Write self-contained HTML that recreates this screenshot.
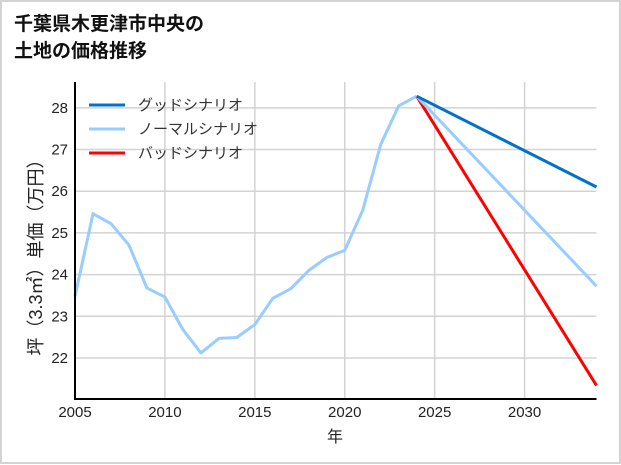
<!DOCTYPE html>
<html><head><meta charset="utf-8"><style>
html,body{margin:0;padding:0;background:#fff}
svg{display:block}
text{font-family:"Liberation Sans","Noto Sans CJK JP",sans-serif}
</style></head><body>
<svg id="chart" width="621" height="465" viewBox="0 0 621 465">
<rect x="1" y="1" width="619" height="462" fill="#fff" stroke="#d3d3d3" stroke-width="2"/>
<text x="14" y="30" font-size="19" font-weight="bold" fill="#111">千葉県木更津市中央の</text>
<text x="14" y="57" font-size="19" font-weight="bold" fill="#111">土地の価格推移</text>
<g id="grid"></g>
<g id="series"></g>
<g id="axes"></g>
<text x="0" y="0" font-size="18" fill="#222" text-anchor="middle" transform="translate(42,253) rotate(-90)">坪（3.3㎡）単価（万円）</text>
<text x="335" y="442" font-size="16" fill="#222" text-anchor="middle">年</text>
<g id="legend"></g>
</svg>
<script>
const years = [2005,2006,2007,2008,2009,2010,2011,2012,2013,2014,2015,2016,2017,2018,2019,2020,2021,2022,2023,2024];
const history = [23.48,25.46,25.22,24.71,23.68,23.46,22.68,22.12,22.47,22.49,22.80,23.43,23.66,24.10,24.41,24.58,25.54,27.12,28.05,28.28];
const forecastYears = [2024,2034];
const goodValues = [28.28,26.10];
const normalValues = [28.28,23.72];
const badValues = [28.28,21.34];
const xTicks = [2005,2010,2015,2020,2025,2030];
const yTicks = [22,23,24,25,26,27,28];
const seriesNames = ['グッドシナリオ','ノーマルシナリオ','バッドシナリオ'];

const X0=75,X1=596.5,Y0=399,Y1=82;
const xmin=2005,xmax=2034,ymin=21.015,ymax=28.62;
const xs=v=>X0+(v-xmin)/(xmax-xmin)*(X1-X0);
const ys=v=>Y0-(v-ymin)/(ymax-ymin)*(Y0-Y1);
const NS='http://www.w3.org/2000/svg';
function mk(tag,attrs,parent){const e=document.createElementNS(NS,tag);for(const k in attrs)e.setAttribute(k,attrs[k]);parent.appendChild(e);return e;}
const grid=document.getElementById('grid'),axes=document.getElementById('axes'),series=document.getElementById('series'),legend=document.getElementById('legend');
xTicks.forEach(t=>{
  const l=mk('line',{x1:xs(t),x2:xs(t),y1:Y1,y2:Y0,stroke:'#d3d3d3','stroke-width':1.5},grid);
  
  
  const tx=mk('text',{x:xs(t),y:Y0+18,'font-size':15,fill:'#222','text-anchor':'middle'},axes);
  tx.textContent=t;
  
  
});
yTicks.forEach(t=>{
  const l=mk('line',{x1:X0,x2:X1,y1:ys(t),y2:ys(t),stroke:'#d3d3d3','stroke-width':1.5},grid);
  
  
  const tx=mk('text',{x:X0-7,y:ys(t)+5,'font-size':15,fill:'#222','text-anchor':'end'},axes);
  tx.textContent=t;
  
  
});
const ax=mk('line',{x1:X0,x2:X0,y1:Y1,y2:Y0+1,stroke:'#000','stroke-width':2},axes);


const bx=mk('line',{x1:X0-1,x2:X1,y1:Y0,y2:Y0,stroke:'#000','stroke-width':2},axes);


function pts(xa,va){return xa.map((x,i)=>xs(x).toFixed(1)+','+ys(va[i]).toFixed(1)).join(' ');}
const h=mk('polyline',{points:pts(years,history),fill:'none',stroke:'#99ccff','stroke-width':3,'stroke-linejoin':'round'},series);


const b=mk('polyline',{points:pts(forecastYears,badValues),fill:'none',stroke:'#ff0000','stroke-width':3},series);


const n=mk('polyline',{points:pts(forecastYears,normalValues),fill:'none',stroke:'#99ccff','stroke-width':3},series);


const g=mk('polyline',{points:pts(forecastYears,goodValues),fill:'none',stroke:'#0072cc','stroke-width':3},series);


const colors=['#0072cc','#99ccff','#ff0000'];
seriesNames.forEach((s,i)=>{
  const y=105+i*24;
  const l=mk('line',{x1:89,x2:125,y1:y,y2:y,stroke:colors[i],'stroke-width':3},legend);
  
  
  const t=mk('text',{x:138,y:y+5,'font-size':15,fill:'#333'},legend);
  t.textContent=s;
  
  
});
</script>
</body></html>
